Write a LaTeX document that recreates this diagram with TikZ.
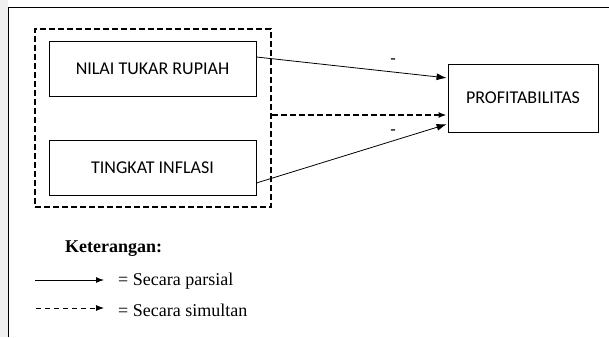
\documentclass[tikz,border=0pt]{standalone}
\usepackage{fontspec}
\setmainfont{Liberation Serif}
\newfontfamily\boxfont{Carlito}
\usetikzlibrary{arrows.meta}
\begin{document}
\begin{tikzpicture}[x=1pt,y=-1pt,
  box/.style={draw,line width=0.9pt,minimum width=207pt,minimum height=55pt,inner sep=0pt,font=\boxfont\fontsize{18}{20}\selectfont},
  parr/.style={line width=0.8pt,-{Latex[length=10pt,width=7pt]},shorten >=1pt},
  sarr/.style={line width=1.8pt,dash pattern=on 6pt off 3pt,-{Latex[length=8pt,width=6pt]},shorten >=1pt},
  lbl/.style={font=\boxfont\fontsize{18}{20}\selectfont,inner sep=0pt},
  leg/.style={anchor=west,inner sep=0pt,font=\fontsize{18}{20}\selectfont},
  legarr/.style={line width=1pt,-{Latex[length=8pt,width=6pt]}}]
\useasboundingbox (0,0) rectangle (609,337);
\fill[black!6] (0,0) rectangle (8,337);
\draw[line width=1pt] (609,8) -- (8.5,8) -- (8.5,337);
% dashed group
\node[draw,line width=1.8pt,dash pattern=on 6pt off 3pt,minimum width=236pt,minimum height=178pt,inner sep=0pt] (grp) at (153,118) {};
\node[box] (nilai) at (152.5,68.5) {NILAI TUKAR RUPIAH};
\node[box] (infl) at (152.5,167.5) {TINGKAT INFLASI};
\node[box,minimum width=150pt,minimum height=68pt] (prof) at (523,98) {PROFITABILITAS};
\coordinate (n1) at (nilai.east|-0,57);
\coordinate (p1) at (prof.west|-0,78);
\coordinate (i1) at (infl.east|-0,183);
\coordinate (p2) at (prof.west|-0,124);
\coordinate (g1) at (grp.east|-0,115);
\coordinate (p3) at (prof.west|-0,115);
\draw[parr] (n1) -- (p1);
\draw[parr] (i1) -- (p2);
\draw[sarr] (g1) -- (p3);
\node[lbl] (m1) at (393,62) {-};
\node[lbl] (m2) at (393,133) {-};
% legend
\node[leg,font=\fontsize{18}{20}\selectfont\bfseries] (ket) at (65,249) {Keterangan:};
\coordinate (a1) at (35,280);
\coordinate (a2) at (104,280);
\coordinate (b1) at (36,308);
\coordinate (b2) at (104,308);
\draw[legarr] (a1) -- (a2);
\draw[legarr,line width=0.8pt,dash pattern=on 5pt off 4pt] (b1) -- (b2);
\node[leg] (t1) at (118,281) {= Secara parsial};
\node[leg] (t2) at (118,310) {= Secara simultan};
\end{tikzpicture}
\end{document}
